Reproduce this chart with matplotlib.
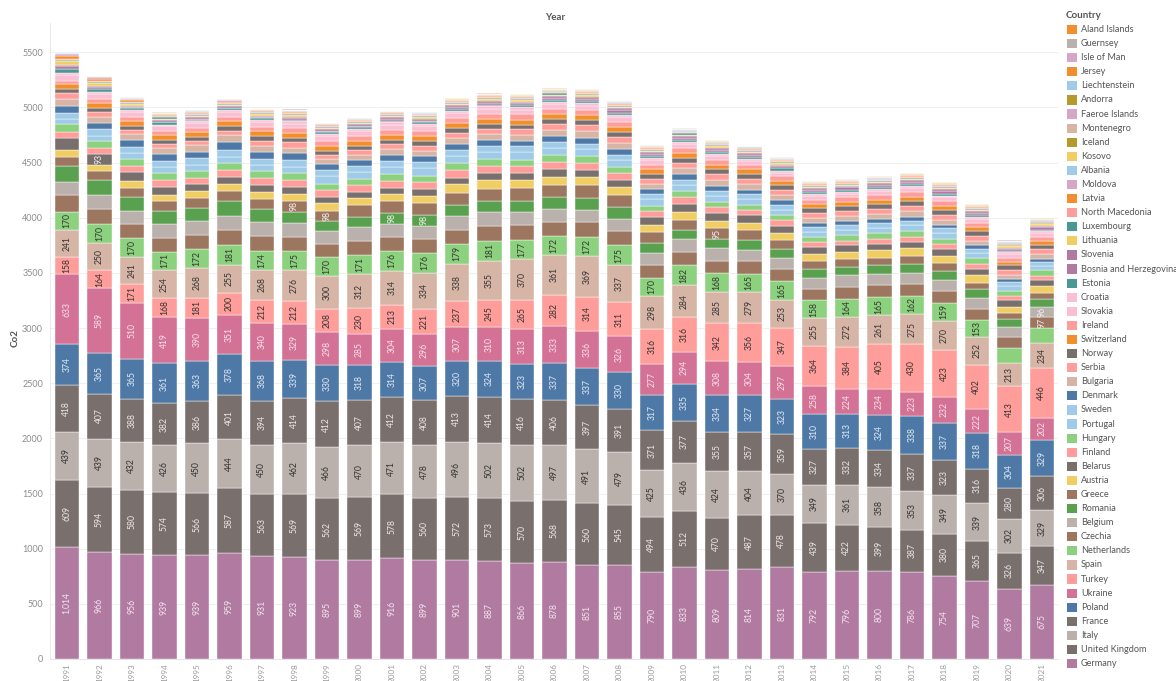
import numpy as np
import matplotlib
matplotlib.use("Agg")
import matplotlib.pyplot as plt
from matplotlib.patches import Rectangle

plt.rcParams['font.family'] = ['Lato', 'DejaVu Sans']

years = ['1991', '1992', '1993', '1994', '1995', '1996', '1997', '1998', '1999', '2000',
         '2001', '2002', '2003', '2004', '2005', '2006', '2007', '2008', '2009', '2010',
         '2011', '2012', '2013', '2014', '2015', '2016', '2017', '2018', '2019', '2020', '2021']

# Co2 per country and year (Mt), stacking order bottom -> top
germany = [1014, 966, 956, 939, 939, 959, 931, 923, 895, 899, 916, 899, 901, 887, 866, 878, 851, 855, 790, 833, 809, 814, 831, 792, 796, 800, 786, 754, 707, 639, 675]
united_kingdom = [609, 594, 580, 574, 566, 587, 563, 569, 562, 569, 578, 560, 572, 573, 570, 568, 560, 545, 494, 512, 470, 487, 478, 439, 422, 399, 387, 380, 365, 326, 347]
italy = [439, 439, 432, 426, 450, 444, 450, 462, 466, 470, 471, 478, 496, 502, 502, 497, 491, 479, 425, 436, 424, 404, 370, 349, 361, 358, 353, 349, 339, 302, 329]
france = [418, 407, 388, 382, 386, 401, 394, 414, 412, 407, 412, 408, 413, 414, 416, 406, 397, 391, 371, 377, 355, 357, 359, 327, 332, 334, 337, 323, 316, 280, 306]
poland = [374, 365, 365, 361, 363, 378, 368, 339, 330, 318, 314, 307, 320, 324, 323, 337, 337, 330, 317, 335, 334, 327, 323, 310, 313, 324, 338, 337, 318, 304, 329]
ukraine = [633, 589, 510, 419, 390, 351, 340, 329, 298, 285, 304, 296, 307, 310, 313, 333, 336, 326, 277, 294, 308, 304, 297, 258, 224, 234, 223, 232, 222, 207, 202]
turkey = [158, 164, 171, 168, 181, 200, 212, 212, 208, 230, 213, 221, 237, 245, 265, 282, 314, 311, 316, 316, 342, 356, 347, 364, 384, 405, 430, 423, 402, 413, 446]
spain = [241, 250, 241, 254, 268, 255, 268, 276, 300, 312, 314, 334, 338, 355, 370, 361, 369, 337, 298, 284, 285, 279, 253, 255, 272, 261, 275, 270, 252, 213, 234]
netherlands = [170, 170, 170, 171, 172, 181, 174, 175, 170, 171, 176, 176, 179, 181, 177, 172, 172, 175, 170, 182, 168, 165, 165, 158, 164, 165, 162, 159, 153, 132, 133]
czechia = [148, 140, 133, 126, 128, 136, 133, 127, 118, 128, 128, 126, 130, 131, 129, 131, 133, 127, 118, 121, 117, 114, 110, 106, 107, 110, 110, 108, 102, 100, 97]
belgium = [125, 122, 120, 124, 124, 128, 125, 128, 121, 127, 122, 125, 125, 127, 121, 117, 115, 117, 107, 116, 110, 105, 106, 99, 102, 103, 103, 103, 101, 90, 96]
romania = [139, 136, 125, 122, 125, 132, 120, 100, 88, 95, 98, 98, 101, 104, 102, 105, 104, 102, 86, 84, 87, 86, 77, 76, 78, 77, 80, 80, 74, 75, 70]
greece = [79, 81, 81, 84, 85, 87, 91, 98, 98, 101, 103, 103, 106, 110, 112, 110, 115, 111, 104, 93, 95, 90, 80, 76, 72, 70, 73, 69, 62, 52, 56]
austria = [66, 60, 61, 61, 64, 67, 67, 66, 65, 66, 69, 71, 77, 77, 79, 76, 73, 73, 66, 74, 71, 68, 69, 63, 65, 66, 68, 65, 67, 60, 60]
belarus = [108, 93, 82, 68, 63, 65, 62, 62, 58, 59, 56, 58, 57, 63, 64, 67, 66, 67, 64, 68, 65, 66, 63, 62, 57, 59, 60, 62, 60, 58, 57]
finland = [57, 55, 58, 64, 59, 65, 63, 61, 59, 57, 63, 65, 73, 68, 60, 69, 67, 59, 57, 66, 58, 52, 52, 49, 45, 47, 45, 46, 42, 37, 38]
hungary = [70, 64, 64, 62, 61, 64, 61, 61, 61, 58, 60, 58, 61, 59, 59, 60, 58, 57, 50, 51, 49, 46, 43, 43, 46, 47, 49, 50, 50, 49, 48]
portugal = [46, 51, 50, 51, 55, 53, 56, 62, 66, 66, 65, 70, 65, 68, 69, 64, 63, 61, 56, 53, 50, 49, 47, 47, 51, 50, 54, 51, 47, 41, 40]
sweden = [57, 57, 57, 60, 59, 63, 58, 59, 56, 54, 55, 56, 57, 56, 53, 53, 52, 50, 46, 52, 49, 46, 45, 43, 43, 42, 42, 42, 40, 37, 38]
denmark = [63, 58, 60, 63, 59, 73, 63, 60, 57, 53, 55, 53, 58, 53, 50, 58, 53, 50, 48, 49, 44, 39, 42, 37, 34, 35, 33, 33, 30, 27, 29]
bulgaria = [60, 57, 60, 56, 59, 60, 55, 51, 45, 46, 49, 47, 51, 52, 51, 55, 58, 57, 48, 52, 57, 53, 46, 49, 52, 49, 52, 47, 44, 39, 40]
serbia = [55, 45, 35, 35, 40, 42, 44, 50, 35, 42, 44, 46, 48, 50, 50, 52, 53, 53, 46, 47, 50, 46, 47, 40, 44, 47, 48, 45, 46, 46, 44]
norway = [35, 36, 37, 39, 39, 41, 42, 42, 42, 42, 43, 42, 44, 44, 44, 44, 46, 46, 44, 46, 45, 44, 44, 44, 44, 43, 43, 43, 42, 41, 41]
switzerland = [46, 46, 44, 43, 44, 44, 43, 45, 45, 44, 45, 44, 45, 46, 46, 46, 45, 45, 44, 45, 41, 43, 44, 40, 39, 40, 39, 38, 38, 35, 36]
ireland = [32, 32, 32, 33, 34, 36, 38, 40, 42, 44, 47, 46, 45, 45, 47, 47, 47, 47, 41, 43, 37, 38, 37, 37, 39, 41, 40, 40, 38, 35, 37]
slovakia = [54, 49, 45, 43, 44, 44, 43, 42, 42, 41, 43, 41, 42, 42, 42, 41, 40, 40, 37, 38, 37, 35, 35, 33, 34, 34, 36, 36, 34, 31, 35]
croatia = [18, 16, 17, 16, 17, 17, 19, 20, 21, 20, 21, 22, 23, 23, 23, 23, 24, 23, 21, 20, 20, 18, 17, 17, 17, 17, 18, 17, 18, 17, 18]
estonia = [34, 25, 19, 20, 17, 18, 18, 17, 15, 15, 16, 15, 17, 17, 17, 16, 20, 18, 15, 19, 19, 17, 20, 19, 16, 18, 19, 18, 13, 9, 11]
bosnia = [24, 15, 8, 6, 5, 6, 9, 12, 14, 15, 16, 17, 18, 18, 18, 19, 20, 22, 21, 21, 23, 22, 22, 22, 22, 23, 23, 23, 23, 22, 23]
slovenia = [13, 13, 14, 14, 15, 15, 16, 16, 15, 15, 16, 16, 16, 16, 16, 16, 16, 17, 15, 15, 15, 15, 14, 13, 13, 14, 14, 14, 13, 12, 13]
lithuania = [37, 24, 17, 15, 15, 15, 14, 15, 13, 11, 12, 12, 12, 13, 14, 14, 15, 15, 13, 13, 13, 13, 12, 12, 12, 12, 13, 13, 13, 13, 14]
luxembourg = [12, 12, 12, 11, 8, 8, 8, 7, 7, 8, 9, 10, 10, 12, 12, 12, 11, 11, 11, 11, 11, 11, 10, 10, 9, 9, 9, 9, 10, 8, 8]
north_macedonia = [10, 10, 10, 10, 10, 10, 10, 11, 10, 10, 10, 9, 10, 9, 9, 9, 9, 9, 8, 8, 9, 9, 8, 7, 7, 7, 7, 7, 7, 7, 7]
latvia = [19, 15, 12, 11, 9, 9, 8, 8, 7, 7, 7, 7, 7, 7, 7, 8, 8, 8, 7, 8, 7, 7, 7, 7, 7, 7, 7, 8, 8, 7, 7]
moldova = [23, 17, 14, 11, 10, 10, 9, 8, 6, 5, 6, 6, 7, 8, 8, 8, 8, 8, 7, 8, 8, 8, 8, 8, 8, 8, 9, 9, 9, 9, 9]
albania = [4.2, 2.5, 2.3, 2.0, 2.0, 2.0, 1.6, 1.8, 3.0, 3.0, 3.3, 3.7, 4.0, 4.0, 4.0, 3.9, 4.0, 4.2, 4.4, 4.6, 5.0, 4.6, 5.0, 5.0, 4.6, 4.6, 5.0, 5.0, 4.8, 4.6, 4.8]
kosovo = [6, 6, 6, 6, 6, 6, 6, 6, 5, 6, 6, 7, 7, 7, 7, 8, 8, 8, 8, 8, 9, 9, 8, 8, 8, 9, 9, 9, 9, 9, 9]
iceland = [2.1, 2.1, 2.2, 2.2, 2.2, 2.3, 2.4, 2.4, 2.5, 2.6, 2.5, 2.6, 2.6, 2.7, 2.6, 2.9, 3.1, 3.3, 3.2, 3.1, 3.0, 2.9, 3.0, 3.0, 3.1, 3.1, 3.2, 3.3, 3.3, 3.2, 3.3]
montenegro = [2.3, 2.0, 1.8, 1.6, 1.7, 1.8, 1.9, 2.0, 2.0, 2.1, 2.1, 2.2, 2.2, 2.3, 2.3, 2.3, 2.4, 2.6, 1.9, 2.6, 2.6, 2.4, 2.3, 2.2, 2.3, 2.4, 2.5, 2.5, 2.4, 2.2, 2.4]
faeroe = [0.6, 0.6, 0.6, 0.6, 0.6, 0.6, 0.7, 0.7, 0.7, 0.7, 0.7, 0.7, 0.7, 0.7, 0.7, 0.7, 0.7, 0.7, 0.7, 0.7, 0.7, 0.7, 0.7, 0.7, 0.7, 0.7, 0.8, 0.8, 0.8, 0.8, 0.8]
andorra = [0.4, 0.4, 0.4, 0.4, 0.4, 0.5, 0.5, 0.5, 0.5, 0.5, 0.5, 0.5, 0.5, 0.6, 0.6, 0.6, 0.6, 0.5, 0.5, 0.5, 0.5, 0.5, 0.5, 0.5, 0.5, 0.5, 0.5, 0.5, 0.5, 0.4, 0.4]
liechtenstein = [0.2, 0.2, 0.2, 0.2, 0.2, 0.2, 0.2, 0.2, 0.2, 0.2, 0.2, 0.2, 0.2, 0.2, 0.2, 0.2, 0.2, 0.2, 0.2, 0.2, 0.2, 0.2, 0.2, 0.2, 0.2, 0.2, 0.2, 0.2, 0.2, 0.1, 0.1]
jersey = [0.4, 0.4, 0.4, 0.4, 0.4, 0.4, 0.4, 0.4, 0.4, 0.4, 0.4, 0.4, 0.4, 0.4, 0.4, 0.4, 0.4, 0.4, 0.4, 0.4, 0.4, 0.4, 0.4, 0.4, 0.4, 0.4, 0.4, 0.4, 0.4, 0.3, 0.3]
isle_of_man = [0.4, 0.4, 0.4, 0.4, 0.4, 0.4, 0.4, 0.4, 0.4, 0.4, 0.4, 0.4, 0.4, 0.4, 0.4, 0.4, 0.4, 0.4, 0.4, 0.4, 0.4, 0.4, 0.4, 0.4, 0.4, 0.4, 0.4, 0.4, 0.4, 0.3, 0.3]
guernsey = [0.4, 0.4, 0.4, 0.4, 0.4, 0.4, 0.4, 0.4, 0.4, 0.4, 0.4, 0.4, 0.4, 0.4, 0.4, 0.4, 0.4, 0.4, 0.4, 0.4, 0.4, 0.4, 0.4, 0.4, 0.4, 0.4, 0.4, 0.4, 0.4, 0.3, 0.3]
aland = [0.2, 0.2, 0.2, 0.2, 0.2, 0.2, 0.2, 0.2, 0.2, 0.2, 0.2, 0.2, 0.2, 0.2, 0.2, 0.2, 0.2, 0.2, 0.2, 0.2, 0.2, 0.2, 0.2, 0.2, 0.2, 0.2, 0.2, 0.2, 0.2, 0.2, 0.2]

# (name, values, colour) bottom -> top
stack = [
    ('Germany', germany, '#b07aa1'),
    ('United Kingdom', united_kingdom, '#79706e'),
    ('Italy', italy, '#bab0ac'),
    ('France', france, '#79706e'),
    ('Poland', poland, '#4e79a7'),
    ('Ukraine', ukraine, '#d37295'),
    ('Turkey', turkey, '#ff9d9a'),
    ('Spain', spain, '#d7b5a6'),
    ('Netherlands', netherlands, '#8cd17d'),
    ('Czechia', czechia, '#9d7660'),
    ('Belgium', belgium, '#bab0ac'),
    ('Romania', romania, '#59a14f'),
    ('Greece', greece, '#9d7660'),
    ('Austria', austria, '#f1ce63'),
    ('Belarus', belarus, '#79706e'),
    ('Finland', finland, '#ff9d9a'),
    ('Hungary', hungary, '#8cd17d'),
    ('Portugal', portugal, '#a0cbe8'),
    ('Sweden', sweden, '#a0cbe8'),
    ('Denmark', denmark, '#4e79a7'),
    ('Bulgaria', bulgaria, '#d7b5a6'),
    ('Serbia', serbia, '#ff9d9a'),
    ('Norway', norway, '#79706e'),
    ('Switzerland', switzerland, '#f28e2b'),
    ('Ireland', ireland, '#ff9d9a'),
    ('Slovakia', slovakia, '#fabfd2'),
    ('Croatia', croatia, '#fabfd2'),
    ('Estonia', estonia, '#499894'),
    ('Bosnia and Herzegovina', bosnia, '#b07aa1'),
    ('Slovenia', slovenia, '#b07aa1'),
    ('Lithuania', lithuania, '#f1ce63'),
    ('Luxembourg', luxembourg, '#499894'),
    ('North Macedonia', north_macedonia, '#ff9d9a'),
    ('Latvia', latvia, '#f28e2b'),
    ('Moldova', moldova, '#d4a6c8'),
    ('Albania', albania, '#a0cbe8'),
    ('Kosovo', kosovo, '#f1ce63'),
    ('Iceland', iceland, '#b6992d'),
    ('Montenegro', montenegro, '#d7b5a6'),
    ('Faeroe Islands', faeroe, '#d4a6c8'),
    ('Andorra', andorra, '#b6992d'),
    ('Liechtenstein', liechtenstein, '#a0cbe8'),
    ('Jersey', jersey, '#f28e2b'),
    ('Isle of Man', isle_of_man, '#d4a6c8'),
    ('Guernsey', guernsey, '#bab0ac'),
    ('Aland Islands', aland, '#f28e2b'),
]

# which segments carry a value label, and the label colour
label_colors = {'Germany': '#f3e6ef', 'United Kingdom': '#ece8e6', 'Italy': '#333333',
                'France': '#ece8e6', 'Poland': '#e3ebf4', 'Ukraine': '#f8e3ea',
                'Turkey': '#333333', 'Spain': '#333333', 'Netherlands': '#333333'}
unlabeled = [('Netherlands', '2020'), ('Netherlands', '2021')]
extra_labels = [('Belarus', '1992'), ('Greece', '1998'), ('Greece', '1999'),
                ('Romania', '2001'), ('Romania', '2002'), ('Greece', '2011'),
                ('Czechia', '2021'), ('Belgium', '2021')]

W, H = 1176, 681
fig = plt.figure(figsize=(W / 100, H / 100), dpi=100)
ax = fig.add_axes([50 / W, 1 - 659 / H, (1058 - 50) / W, (659 - 23) / H])

x = np.arange(len(years))
bottom = np.zeros(len(years))
for name, vals, col in stack:
    v = np.array(vals, dtype=float)
    ax.bar(x, v, width=0.754, bottom=bottom, color=col, edgecolor='white', linewidth=0.3, zorder=2)
    for i, yr in enumerate(years):
        txt_col = None
        if name in label_colors and (name, yr) not in unlabeled:
            txt_col = label_colors[name]
        elif (name, yr) in extra_labels:
            txt_col = '#f2f2f2'
        if txt_col:
            ax.text(x[i], bottom[i] + v[i] / 2, f"{int(round(v[i])):,}", rotation=90,
                    ha='center', va='center', fontsize=6.2, color=txt_col, zorder=3)
    bottom += v

ax.set_xlim(-0.52, len(years) - 0.5)
ax.set_ylim(0, 5766)
ax.set_yticks(range(0, 5501, 500))
ax.set_yticklabels([str(t) for t in range(0, 5501, 500)])
ax.set_xticks(x)
ax.set_xticklabels(years, rotation=90)
ax.tick_params(axis='y', length=0, pad=5, labelsize=6.5, labelcolor='#8c8c8c')
ax.tick_params(axis='x', length=0, pad=3, labelsize=5.9, labelcolor='#9a9a9a')
ax.yaxis.grid(True, color='#efefef', linewidth=0.7, zorder=0)
ax.set_axisbelow(True)
for s in ['top', 'right']:
    ax.spines[s].set_visible(False)
ax.spines['left'].set_color('#e6e6e6')
ax.spines['left'].set_linewidth(0.6)
ax.spines['bottom'].set_color('#e0e0e0')
ax.spines['bottom'].set_linewidth(0.6)

# overlay in pixel coordinates for titles and legend
ov = fig.add_axes([0, 0, 1, 1], facecolor='none')
ov.set_xlim(0, W)
ov.set_ylim(H, 0)
ov.axis('off')

ov.text(555, 17, 'Year', ha='center', va='center', fontsize=7, fontweight='bold', color='#555555')
ov.text(15, 338, 'Co2', ha='center', va='center', rotation=90, fontsize=7, fontweight='bold', color='#555555')
ov.text(1066, 16, 'Country', ha='left', va='center', fontsize=7, fontweight='bold', color='#555555')

for k, (name, vals, col) in enumerate(stack[::-1]):
    yc = 29.5 + k * 14.09
    ov.add_patch(Rectangle((1067, yc - 4.6), 9.5, 9.2, facecolor=col, edgecolor='none'))
    ov.text(1081, yc, name, ha='left', va='center', fontsize=6.6, color='#555555')

fig.savefig('out.png', dpi=100)
